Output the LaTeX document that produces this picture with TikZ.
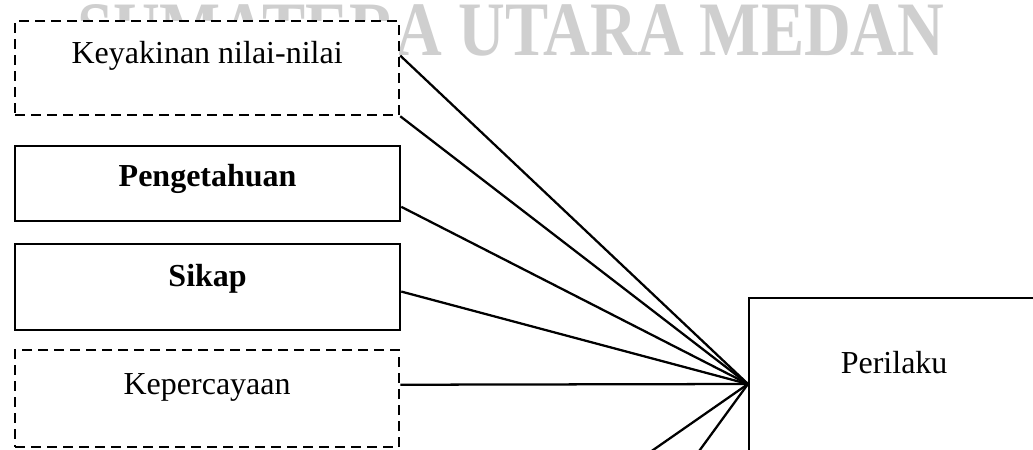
\documentclass[tikz,border=0pt]{standalone}
\usepackage{fontspec}
\setmainfont{Liberation Serif}
\usetikzlibrary{calc}
\definecolor{wmgray}{RGB}{207,207,207}
\tikzset{
  box/.style={draw, line width=1.7pt, fill=white, inner sep=0pt, anchor=north west,
    font=\fontsize{24pt}{28pt}\selectfont, align=center},
  dashedbox/.style={box, dash pattern=on 7.5pt off 4.5pt},
  link/.style={line width=1.7pt},
}
\begin{document}
\begin{tikzpicture}[x=0.75pt, y=-0.75pt]
  \clip (0,0) rectangle (1033,450);
  \fill[white] (0,0) rectangle (1033,450);
  % faint watermark across the top
  \node[anchor=base west, inner sep=0pt, text=wmgray, xscale=0.84,
        font=\bfseries\fontsize{57.75pt}{60pt}\selectfont] (wm) at (77,55) {SUMATERA UTARA MEDAN};

  % factor boxes on the left
  \node[dashedbox, minimum width=288pt, text height=31.5pt, text depth=39pt] (b1) at (14,20) {Keyakinan nilai-nilai};
  \node[box, minimum width=288.75pt, text height=30pt, text depth=26.25pt] (b2) at (14,145) {\textbf{Pengetahuan}};
  \node[box, minimum width=288.75pt, text height=31.5pt, text depth=33pt] (b3) at (14,243) {\textbf{Sikap}};
  \node[dashedbox, minimum width=288pt, text height=33pt, text depth=39.75pt] (b4) at (14,349) {Kepercayaan};

  % outcome box
  \node[box, minimum width=217.5pt, text height=56.25pt, text depth=112.5pt] (p) at (748,297) {Perilaku};

  % meeting point on the left side of the outcome box
  \coordinate (hub) at (748,384);
  \coordinate (d1) at (610,480);
  \coordinate (d2) at (678,480);

  \draw[link] ($(b1.north east)!0.37!(b1.south east)$) -- (hub);
  \draw[link] (b1.south east) -- (hub);
  \draw[link] ($(b2.north east)!0.8!(b2.south east)$) -- (hub);
  \draw[link] ($(b3.north east)!0.55!(b3.south east)$) -- (hub);
  \draw[link] ($(b4.north east)!0.36!(b4.south east)$) -- (hub);
  \draw[link] (hub) -- (d1);
  \draw[link] (hub) -- (d2);
\end{tikzpicture}
\end{document}
